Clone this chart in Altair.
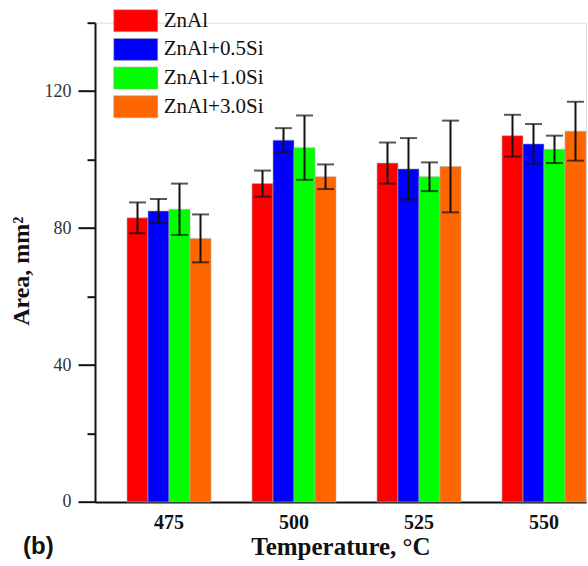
import altair as alt
import pandas as pd

temps = ["475", "500", "525", "550"]
series = ["ZnAl", "ZnAl+0.5Si", "ZnAl+1.0Si", "ZnAl+3.0Si"]
colors = ["#FF0000", "#0000FF", "#00FF00", "#FF6600"]
means = {
    "ZnAl":       [83.0, 93.0, 99.0, 107.0],
    "ZnAl+0.5Si": [85.0, 105.7, 97.3, 104.6],
    "ZnAl+1.0Si": [85.5, 103.5, 95.0, 103.0],
    "ZnAl+3.0Si": [77.0, 95.0, 98.0, 108.3],
}
errs = {
    "ZnAl":       [4.5, 3.8, 6.0, 6.1],
    "ZnAl+0.5Si": [3.5, 3.5, 9.0, 5.8],
    "ZnAl+1.0Si": [7.5, 9.4, 4.2, 4.0],
    "ZnAl+3.0Si": [7.0, 3.6, 13.4, 8.6],
}

rows = []
for s in series:
    for i, t in enumerate(temps):
        m, e = means[s][i], errs[s][i]
        rows.append({"temp": t, "series": s, "mean": m, "lo": m - e, "hi": m + e})
df = pd.DataFrame(rows)

SERIF = "Liberation Serif"

x = alt.X("temp:N", sort=temps,
          scale=alt.Scale(paddingInner=0.328, paddingOuter=0.128, align=1),
          axis=alt.Axis(title="Temperature, °C", labelAngle=0, ticks=False,
                        labelFont=SERIF, labelFontSize=20, labelFontWeight="bold",
                        labelColor="#111", labelPadding=11,
                        titleFont=SERIF, titleFontSize=25, titleFontWeight="bold",
                        titleColor="#111", titlePadding=2,
                        domainColor="#111", domainWidth=2))
xo = alt.XOffset("series:N", sort=series,
                 scale=alt.Scale(paddingInner=0, paddingOuter=0))

yscale = alt.Scale(domain=[0, 140], nice=False, zero=True)
yaxis = alt.Axis(title="Area, mm²", values=[0, 20, 40, 60, 80, 100, 120, 140],
                 labelExpr="datum.value % 40 === 0 ? datum.label : ''",
                 tickSize={"condition": {"test": "datum.value % 40 === 0", "value": 17}, "value": 8},
                 tickColor="#111", tickWidth=2, domainColor="#111", domainWidth=2,
                 labelFont=SERIF, labelFontSize=18, labelColor="#333", labelPadding=7,
                 titleFont=SERIF, titleFontSize=24, titleFontWeight="bold",
                 titleColor="#111", titleX=-62, titleY=248, titleBaseline="bottom",
                 grid=False)

color = alt.Color("series:N", sort=series,
                  scale=alt.Scale(domain=series, range=colors),
                  legend=alt.Legend(title=None, orient="none", legendX=29.25, legendY=-13.5,
                                    symbolType="M-2,-1H2V1H-2Z", symbolSize=484,
                                    symbolStrokeColor="#aaaaaa", symbolStrokeWidth=0.6,
                                    symbolOpacity=1,
                                    labelFont=SERIF, labelFontSize=21, labelColor="#111",
                                    labelOffset=16.5, rowPadding=3.7, padding=0))

bars = alt.Chart(df).mark_bar(stroke="#b0b0b0", strokeWidth=0.6, opacity=1).encode(
    x=x, xOffset=xo, y=alt.Y("mean:Q", scale=yscale, axis=yaxis), color=color)

rules = alt.Chart(df).mark_rule(color="#111", strokeWidth=2).encode(
    x=x, xOffset=xo, y=alt.Y("lo:Q", scale=yscale), y2="hi:Q")

ticks_lo = alt.Chart(df).mark_tick(color="#111", thickness=2, size=17, orient="horizontal").encode(
    x=x, xOffset=xo, y=alt.Y("lo:Q", scale=yscale))
ticks_hi = alt.Chart(df).mark_tick(color="#111", thickness=2, size=17, orient="horizontal").encode(
    x=x, xOffset=xo, y=alt.Y("hi:Q", scale=yscale))

chart = alt.layer(bars, rules, ticks_lo, ticks_hi).properties(
    width=491, height=479.3,
    title=alt.TitleParams("(b)", orient="bottom", anchor="start", frame="group",
                          dx=-72, dy=-29, font="Liberation Sans", fontSize=24,
                          fontWeight="bold", color="#111"),
    autosize=alt.AutoSizeParams(type="none"),
    padding={"left": 95, "top": 22.7, "right": 2, "bottom": 63.7},
).configure_view(stroke=None).configure(background="white")

chart.save("out.html", embed_options={"renderer": "svg", "actions": False})
